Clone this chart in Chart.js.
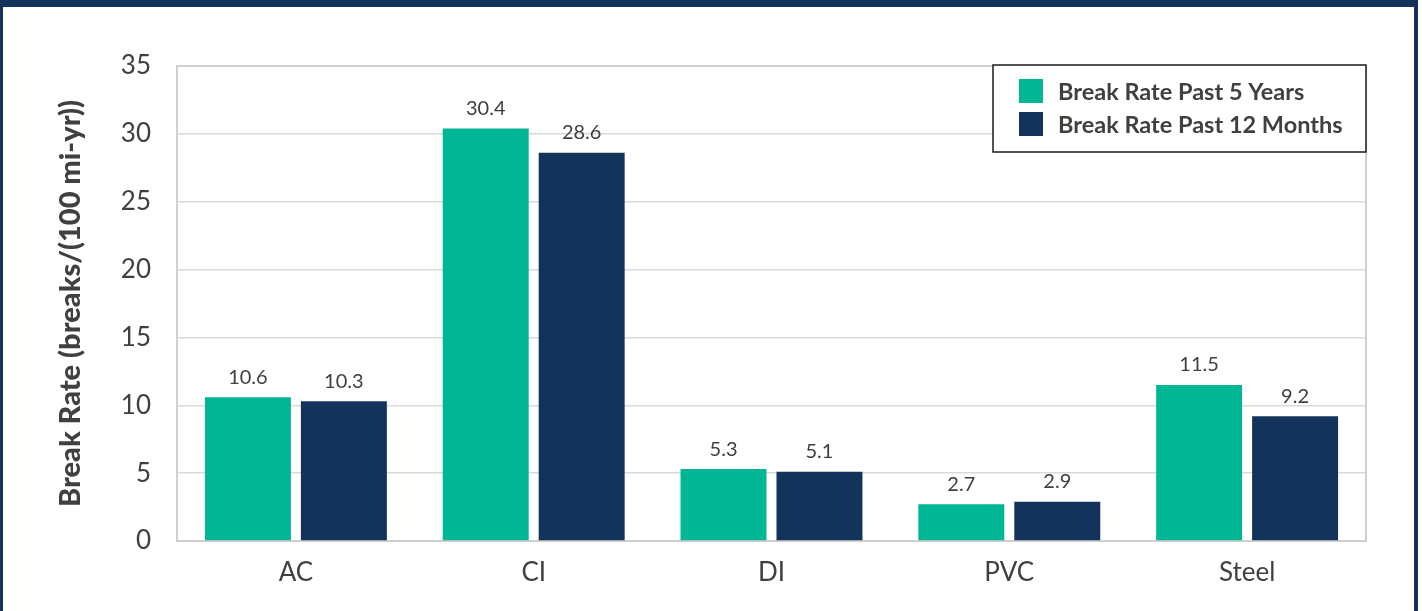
<!DOCTYPE html>
<html>
<head>
<meta charset="utf-8">
<script src="https://cdn.jsdelivr.net/npm/chart.js@4"></script>
<style>
  html, body { margin: 0; padding: 0; background: #ffffff; }
  #wrap { position: absolute; left: 0; top: 0; width: 1422px; height: 611px; }
  #frame { position: absolute; left: 0; top: 0; width: 1418px; height: 640px; box-sizing: border-box;
           border-top: 7px solid #13335a; border-left: 3px solid #13335a; border-right: 4px solid #13335a; pointer-events: none; }
</style>
</head>
<body>
<div id="wrap"><canvas id="c" width="1422" height="611"></canvas></div>
<div id="frame"></div>
<script>
const categories = ['AC', 'CI', 'DI', 'PVC', 'Steel'];
const past5Years = [10.6, 30.4, 5.3, 2.7, 11.5];
const past12Months = [10.3, 28.6, 5.1, 2.9, 9.2];
const seriesNames = ['Break Rate Past 5 Years', 'Break Rate Past 12 Months'];
const yAxisTitle = 'Break Rate (breaks/(100 mi-yr))';
const yTicks = [0, 5, 10, 15, 20, 25, 30, 35];

const GREEN = '#00b694';
const NAVY = '#14335a';
const TEXT = '#404040';
const FONT = 'Lato, "Open Sans", sans-serif';

const dataLabels = {
  id: 'dataLabels',
  afterDatasetsDraw(chart) {
    const ctx = chart.ctx;
    ctx.save();
    ctx.font = '20px ' + FONT;
    ctx.fillStyle = TEXT;
    ctx.textAlign = 'center';
    ctx.textBaseline = 'middle';
    chart.data.datasets.forEach((ds, i) => {
      const meta = chart.getDatasetMeta(i);
      meta.data.forEach((el, j) => {
        ctx.fillText(ds.data[j].toFixed(1), el.x, el.y - 20);
      });
    });
    ctx.restore();
  }
};

const plotFrame = {
  id: 'plotFrame',
  beforeDatasetsDraw(chart) {
    const {ctx, chartArea: a} = chart;
    ctx.save();
    ctx.strokeStyle = '#d0d0d0';
    ctx.lineWidth = 2;
    ctx.beginPath();
    ctx.moveTo(a.left, a.top); ctx.lineTo(a.right, a.top);
    ctx.moveTo(a.right, a.top); ctx.lineTo(a.right, a.bottom);
    ctx.stroke();
    ctx.restore();
  }
};

const boxLegend = {
  id: 'boxLegend',
  afterDraw(chart) {
    const {ctx, chartArea: a} = chart;
    const x0 = 993, y0 = 65, w = a.right - 993, h = 87;
    ctx.save();
    ctx.fillStyle = '#ffffff';
    ctx.fillRect(x0, y0, w, h);
    ctx.strokeStyle = '#1a1a1a';
    ctx.lineWidth = 1.5;
    ctx.strokeRect(x0, y0, w, h);
    ctx.font = 'bold 23.5px ' + FONT;
    ctx.textAlign = 'left';
    ctx.textBaseline = 'middle';
    chart.data.datasets.forEach((ds, i) => {
      const yy = 79 + i * 33;
      ctx.fillStyle = ds.backgroundColor;
      ctx.fillRect(1019, yy, 24, 24);
      ctx.fillStyle = TEXT;
      ctx.fillText(ds.label, 1058, yy + 13);
    });
    ctx.restore();
  }
};

new Chart(document.getElementById('c'), {
  type: 'bar',
  data: {
    labels: categories,
    datasets: [
      { label: seriesNames[0], data: past5Years, backgroundColor: GREEN },
      { label: seriesNames[1], data: past12Months, backgroundColor: NAVY }
    ]
  },
  options: {
    responsive: false,
    animation: false,
    devicePixelRatio: 1,
    layout: { padding: { left: 53, top: 66, right: 56, bottom: 0 } },
    datasets: { bar: { categoryPercentage: 0.807, barPercentage: 0.896 } },
    plugins: { legend: { display: false }, tooltip: { enabled: false } },
    scales: {
      x: {
        grid: { display: false, drawTicks: false },
        border: { display: true, color: '#cfcfcf', width: 2 },
        ticks: { color: TEXT, font: { family: FONT, size: 26 }, padding: 16, maxRotation: 0 },
        afterFit(s) { s.height = 70; }
      },
      y: {
        min: 0, max: 35,
        afterBuildTicks(s) { s.ticks = yTicks.map(v => ({ value: v })); },
        grid: { color: '#d9d9d9', lineWidth: 1.5, drawTicks: false },
        border: { display: true, color: '#d0d0d0', width: 2 },
        ticks: { color: TEXT, font: { family: FONT, size: 26 }, padding: 26 },
        title: { display: true, text: yAxisTitle, color: TEXT, font: { family: FONT, size: 29, weight: 900 }, padding: 0 },
        afterFit(s) { s.width = 124; }
      }
    }
  },
  plugins: [dataLabels, plotFrame, boxLegend]
});
</script>
</body>
</html>
